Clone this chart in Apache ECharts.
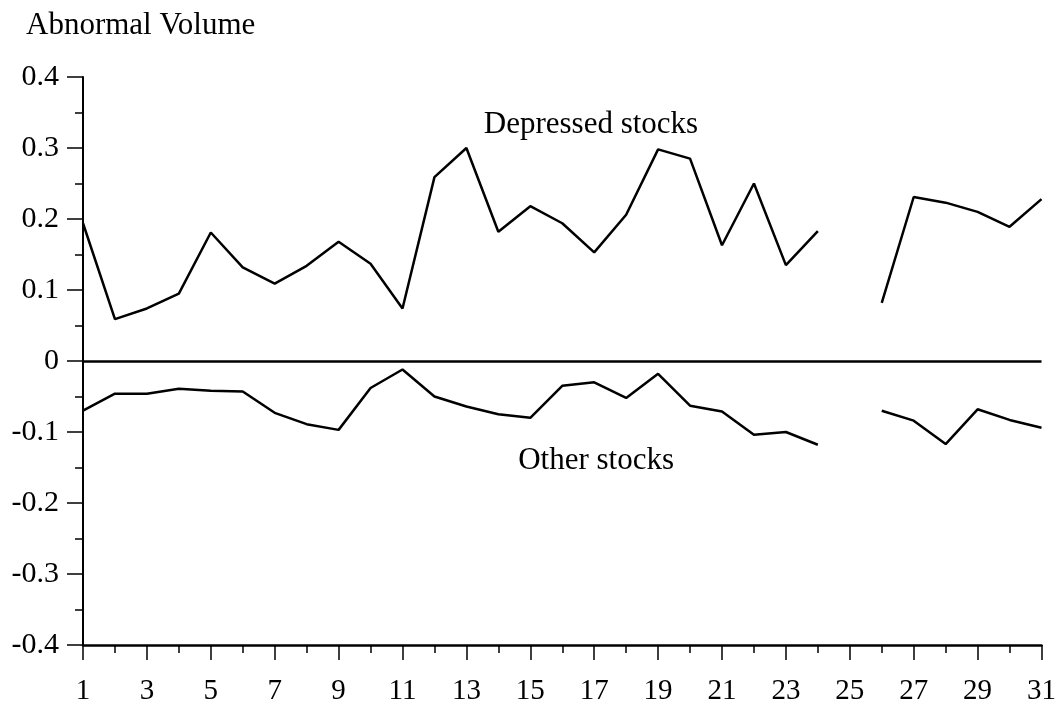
<!DOCTYPE html>
<html>
<head>
<meta charset="utf-8">
<script src="https://cdn.jsdelivr.net/npm/echarts@6/dist/echarts.min.js"></script>
<style>html,body{margin:0;padding:0;background:#fff;overflow:hidden}#c{width:1059px;height:706px}</style>
</head>
<body>
<div id="c"></div>
<script>
var days = [1,2,3,4,5,6,7,8,9,10,11,12,13,14,15,16,17,18,19,20,21,22,23,24,25,26,27,28,29,30,31];
var depressed = [0.194,0.059,0.074,0.095,0.181,0.132,0.109,0.134,0.168,0.137,0.074,0.259,0.300,0.182,0.218,0.194,0.153,0.206,0.298,0.285,0.163,0.250,0.135,0.183,null,0.082,0.231,0.223,0.210,0.189,0.228];
var other = [-0.070,-0.046,-0.046,-0.039,-0.042,-0.043,-0.073,-0.089,-0.097,-0.038,-0.012,-0.050,-0.064,-0.075,-0.080,-0.035,-0.030,-0.052,-0.018,-0.063,-0.071,-0.104,-0.100,-0.118,null,-0.070,-0.084,-0.117,-0.068,-0.083,-0.094];
var yTicks = [-0.4,-0.3,-0.2,-0.1,0,0.1,0.2,0.3,0.4];
var labelDepressed = {text:'Depressed stocks', day:16.9, value:0.333};
var labelOther = {text:'Other stocks', day:17.06, value:-0.14};

var FONT = 'Liberation Serif';
function toPairs(arr){ return arr.map(function(v,i){ return [days[i]-days[0], v === null ? '-' : v]; }); }

var chart = echarts.init(document.getElementById('c'), null, {renderer:'canvas'});
chart.setOption({
  animation:false,
  backgroundColor:'#fff',
  title:{text:'Abnormal Volume', left:21, top:5, textStyle:{fontFamily:FONT, fontSize:31, fontWeight:'normal', color:'#000'}},
  grid:{left:83, right:16, top:77, bottom:53, containLabel:false},
  xAxis:{
    type:'value', min:0, max:days[days.length-1]-days[0], interval:2,
    axisLine:{show:true, onZero:false, lineStyle:{color:'#000', width:2.5}},
    axisTick:{show:true, length:15, lineStyle:{color:'#000', width:1.5}},
    minorTick:{show:true, splitNumber:2, length:8, lineStyle:{color:'#000', width:1.5}},
    splitLine:{show:false},
    axisLabel:{margin:32, color:'#000', fontFamily:FONT, fontSize:29, formatter:function(v){return String(v+days[0]);}, showMinLabel:true, showMaxLabel:true}
  },
  yAxis:{
    type:'value', min:yTicks[0], max:yTicks[yTicks.length-1], interval:0.1,
    axisLine:{show:true, onZero:false, lineStyle:{color:'#000', width:2}},
    axisTick:{show:true, length:16, lineStyle:{color:'#000', width:1.5}},
    minorTick:{show:true, splitNumber:2, length:8, lineStyle:{color:'#000', width:1.5}},
    splitLine:{show:false},
    axisLabel:{margin:24, color:'#000', fontFamily:FONT, fontSize:30, formatter:function(v){ var r=Math.round(v*10)/10; return r===0?'0':String(r);} }
  },
  series:[
    {type:'line', data:toPairs(depressed), symbol:'none', connectNulls:false, lineStyle:{color:'#000', width:2.5},
     markLine:{silent:true, symbol:['none','none'], label:{show:false}, lineStyle:{color:'#000', width:2.5, type:'solid'}, data:[{yAxis:0}]},
     markPoint:{symbol:'circle', symbolSize:0, label:{show:true, position:'inside', color:'#000', fontFamily:FONT, fontSize:31, formatter:labelDepressed.text},
       data:[{coord:[labelDepressed.day-days[0], labelDepressed.value]}]}},
    {type:'line', data:toPairs(other), symbol:'none', connectNulls:false, lineStyle:{color:'#000', width:2.5},
     markPoint:{symbol:'circle', symbolSize:0, label:{show:true, position:'inside', color:'#000', fontFamily:FONT, fontSize:31, formatter:labelOther.text},
       data:[{coord:[labelOther.day-days[0], labelOther.value]}]}}
  ]
});
</script>
</body>
</html>
